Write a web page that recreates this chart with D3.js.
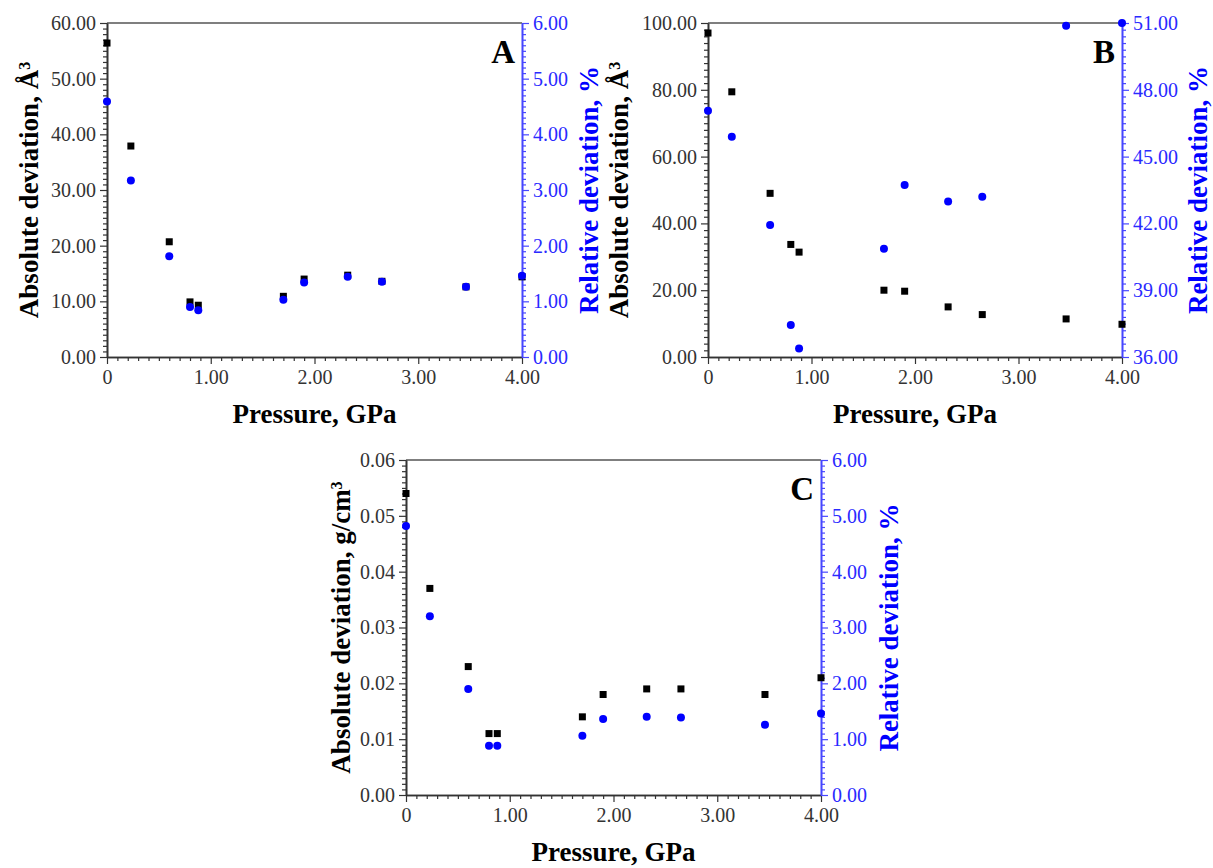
<!DOCTYPE html>
<html><head><meta charset="utf-8">
<script src="https://cdn.jsdelivr.net/npm/d3@7"></script>
<style>body{margin:0;background:#fff}svg{display:block}text{font-family:'Liberation Serif','Times New Roman',serif}</style>
</head><body>
<svg id="chart" width="1213" height="868"></svg>
<script>
// ---- data ----
const pressure = [0, 0.23, 0.6, 0.8, 0.88, 1.7, 1.9, 2.32, 2.65, 3.46, 4.0];
const absA = [56.4, 37.9, 20.7, 9.9, 9.3, 10.9, 14.0, 14.7, 13.6, 12.6, 14.4];
const relA = [4.59, 3.17, 1.81, 0.90, 0.84, 1.03, 1.34, 1.44, 1.35, 1.26, 1.46];
const absB = [97.0, 79.4, 49.0, 33.7, 31.4, 20.0, 19.7, 15.0, 12.7, 11.4, 9.8];
const relB = [47.06, 45.89, 41.93, 37.44, 36.38, 40.86, 43.73, 42.98, 43.2, 50.88, 51.0];
const absC = [0.054, 0.037, 0.023, 0.011, 0.011, 0.014, 0.018, 0.019, 0.019, 0.018, 0.021];
const relC = [4.82, 3.20, 1.90, 0.88, 0.88, 1.06, 1.36, 1.40, 1.39, 1.26, 1.46];

const xTicks = [0, 1, 2, 3, 4];
const yTicksA = [0, 10, 20, 30, 40, 50, 60];
const rTicksA = [0, 1, 2, 3, 4, 5, 6];
const yTicksB = [0, 20, 40, 60, 80, 100];
const rTicksB = [36, 39, 42, 45, 48, 51];
const yTicksC = [0, 0.01, 0.02, 0.03, 0.04, 0.05, 0.06];
const rTicksC = [0, 1, 2, 3, 4, 5, 6];

const svg = d3.select("#chart");
const FONT = "'Liberation Serif','Times New Roman',serif";
const BLUE = "#0000ff";

function minorTicks(major, n) {
  const out = [];
  for (let i = 0; i < major.length - 1; i++) {
    const a = major[i], b = major[i + 1];
    for (let k = 1; k < n; k++) out.push(a + (b - a) * k / n);
  }
  return out;
}

function panel(cfg) {
  const {L, R, T, B} = cfg.box;
  const g = svg.append("g");
  const x = d3.scaleLinear().domain([0, 4]).range([L, R]);
  const y = d3.scaleLinear().domain(cfg.yDom).range([B, T]);
  const yr = d3.scaleLinear().domain(cfg.rDom).range([B, T]);

  // top border
  g.append("line").attr("x1", L).attr("x2", R).attr("y1", T).attr("y2", T)
    .attr("stroke", "#555").attr("stroke-width", 1.6);

  function styleAxis(sel, color) {
    sel.attr("font-family", FONT).attr("font-size", 20);
    sel.selectAll("path").attr("stroke", color).attr("stroke-width", 1.6);
    sel.selectAll("line").attr("stroke", color).attr("stroke-width", 1.2);
    sel.selectAll("text").attr("fill", color).style("font-family", FONT).style("font-size", "20px");
  }

  // x axis
  const xm = g.append("g").attr("transform", `translate(0,${B})`)
    .call(d3.axisBottom(x).tickValues(minorTicks(xTicks, 10)).tickSize(4).tickSizeOuter(0).tickFormat(""));
  styleAxis(xm, "#333");
  const xa = g.append("g").attr("transform", `translate(0,${B})`)
    .call(d3.axisBottom(x).tickValues(xTicks).tickSize(7).tickSizeOuter(0).tickPadding(6)
      .tickFormat(d => d === 0 ? "0" : d3.format(".2f")(d)));
  styleAxis(xa, "#333");

  // left axis
  const ym = g.append("g").attr("transform", `translate(${L},0)`)
    .call(d3.axisLeft(y).tickValues(minorTicks(cfg.yTicks, 10)).tickSize(4).tickSizeOuter(0).tickFormat(""));
  styleAxis(ym, "#333");
  const ya = g.append("g").attr("transform", `translate(${L},0)`)
    .call(d3.axisLeft(y).tickValues(cfg.yTicks).tickSize(7).tickSizeOuter(0).tickPadding(4)
      .tickFormat(d3.format(".2f")));
  styleAxis(ya, "#333");

  // right axis
  const rm = g.append("g").attr("transform", `translate(${R},0)`)
    .call(d3.axisRight(yr).tickValues(minorTicks(cfg.rTicks, 10)).tickSize(4).tickSizeOuter(0).tickFormat(""));
  styleAxis(rm, "#4646ff");
  const ra = g.append("g").attr("transform", `translate(${R},0)`)
    .call(d3.axisRight(yr).tickValues(cfg.rTicks).tickSize(7).tickSizeOuter(0).tickPadding(4)
      .tickFormat(d3.format(".2f")));
  styleAxis(ra, "#4646ff");
  ra.selectAll("text").attr("fill", "#2a2aff");

  // squares (absolute)
  const s = 7;
  g.append("g").selectAll("rect").data(pressure.map((p, i) => [p, cfg.abs[i]])).join("rect")
    .attr("x", d => x(d[0]) - s / 2).attr("y", d => y(d[1]) - s / 2)
    .attr("width", s).attr("height", s).attr("fill", "#000");
  // circles (relative)
  g.append("g").selectAll("circle").data(pressure.map((p, i) => [p, cfg.rel[i]])).join("circle")
    .attr("cx", d => x(d[0])).attr("cy", d => yr(d[1])).attr("r", 4).attr("fill", BLUE);

  // panel letter
  g.append("text").attr("x", R - 7).attr("y", T + 40).attr("text-anchor", "end")
    .style("font-family", FONT).style("font-weight", "bold").style("font-size", "33px")
    .attr("fill", "#000").text(cfg.letter);

  // x title
  g.append("text").attr("x", (L + R) / 2).attr("y", B + 66).attr("text-anchor", "middle")
    .style("font-family", FONT).style("font-weight", "bold").style("font-size", "27px")
    .attr("fill", "#000").text("Pressure, GPa");

  // left title
  const lt = g.append("text")
    .attr("transform", `translate(${L - cfg.lOff},${(T + B) / 2}) rotate(-90)`)
    .attr("text-anchor", "middle").attr("dy", "0.35em")
    .style("font-family", FONT).style("font-weight", "bold").style("font-size", "27px").attr("fill", "#000");
  lt.append("tspan").text(cfg.unit);
  lt.append("tspan").attr("dy", "-0.55em").style("font-size", "16px").text("3");

  // right title
  g.append("text")
    .attr("transform", `translate(${R + cfg.rOff},${(T + B) / 2}) rotate(-90)`)
    .attr("text-anchor", "middle").attr("dy", "0.35em")
    .style("font-family", FONT).style("font-weight", "bold").style("font-size", "27px")
    .attr("fill", BLUE).text("Relative deviation, %");
}

panel({letter: "A", box: {L: 107, R: 522, T: 23, B: 357}, yDom: [0, 60], rDom: [0, 6],
  yTicks: yTicksA, rTicks: rTicksA, abs: absA, rel: relA,
  unit: "Absolute deviation, Å", lOff: 78, rOff: 67});
panel({letter: "B", box: {L: 708, R: 1122, T: 23, B: 357}, yDom: [0, 100], rDom: [36, 51],
  yTicks: yTicksB, rTicks: rTicksB, abs: absB, rel: relB,
  unit: "Absolute deviation, Å", lOff: 89, rOff: 76});
panel({letter: "C", box: {L: 406, R: 821, T: 460, B: 795}, yDom: [0, 0.06], rDom: [0, 6],
  yTicks: yTicksC, rTicks: rTicksC, abs: absC, rel: relC,
  unit: "Absolute deviation, g/cm", lOff: 65, rOff: 68});
</script>
</body></html>
